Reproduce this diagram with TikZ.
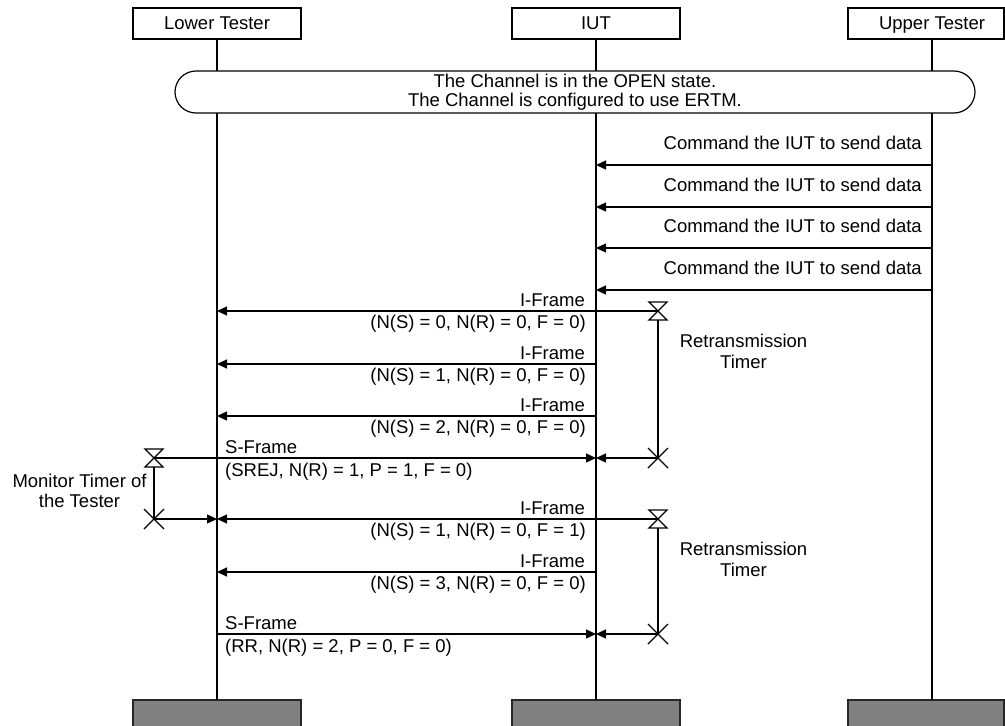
\documentclass[tikz,border=0pt]{standalone}
\usepackage{fontspec}
\setmainfont{Liberation Sans}
\usetikzlibrary{arrows.meta}
\begin{document}
\begin{tikzpicture}[x=1pt,y=-1pt,
  every node/.style={font=\fontsize{18.5}{21}\selectfont, inner sep=0pt},
  boxline/.style={line width=1.2pt},
  ftr/.style={draw=black!85, fill=black!50, line width=1.2pt},
  life/.style={line width=2pt},
  msg/.style={line width=1.3pt, -{Triangle[length=10pt,width=9pt]}},
  tline/.style={line width=1.3pt},
]
\clip (0,0) rectangle (1005,726);
\useasboundingbox (0,0) rectangle (1005,726);
\fill[white] (0,0) rectangle (1005,726);

% header boxes
\draw[boxline] (133,8) rectangle (301,39);
\node[anchor=base] (lt) at (217,29.5) {Lower Tester};
\draw[boxline] (512,8) rectangle (680,39);
\node[anchor=base] (iut) at (596,29.5) {IUT};
\draw[boxline] (848,8) rectangle (1004,39);
\node[anchor=base] (ut) at (932,29.5) {Upper Tester};
\coordinate (ltt) at (217,39);
\coordinate (iutt) at (596,39);
\coordinate (utt) at (932,39);

% footer boxes
\draw[ftr] (133,700) rectangle (301,740);
\draw[ftr] (512,700) rectangle (680,740);
\draw[ftr] (848,700) rectangle (1004,740);
\coordinate (ltb) at (217,700);
\coordinate (iutb) at (596,700);
\coordinate (utb) at (932,700);

% lifelines
\draw[life] (ltt) -- (ltb);
\draw[life] (iutt) -- (iutb);
\draw[life] (utt) -- (utb);

% channel condition
\draw[boxline, fill=white, rounded corners=21pt] (175,71) rectangle (975,113);
\node[anchor=base] (ch1) at (575,87.5) {The Channel is in the OPEN state.};
\node[anchor=base] (ch2) at (575,106.5) {The Channel is configured to use ERTM.};

% commands from upper tester
\foreach \y [count=\i] in {165,207,248,290} {
  \coordinate (cu\i) at (932,\y);
  \coordinate (ci\i) at (596,\y);
  \draw[msg] (cu\i) -- (ci\i);
  \node[anchor=base east] (cl\i) at (922,\y-16) {Command the IUT to send data};
}

% I-Frames
\foreach \y/\t [count=\i] in {311/{(N(S) = 0, N(R) = 0, F = 0)},
                              364/{(N(S) = 1, N(R) = 0, F = 0)},
                              416/{(N(S) = 2, N(R) = 0, F = 0)},
                              519/{(N(S) = 1, N(R) = 0, F = 1)},
                              572/{(N(S) = 3, N(R) = 0, F = 0)}} {
  \coordinate (fi\i) at (596,\y);
  \coordinate (fl\i) at (217,\y);
  \draw[msg] (fi\i) -- (fl\i);
  \node[anchor=base east] (fa\i) at (585,\y-5) {I-Frame};
  \node[anchor=base east] (fb\i) at (586,\y+17.5) {\t};
}

% S-Frames
\foreach \y/\t [count=\i] in {458/{(SREJ, N(R) = 1, P = 1, F = 0)},
                              634/{(RR, N(R) = 2, P = 0, F = 0)}} {
  \coordinate (sl\i) at (217,\y);
  \coordinate (si\i) at (596,\y);
  \draw[msg] (sl\i) -- (si\i);
  \node[anchor=base west] (sa\i) at (225,\y-5) {S-Frame};
  \node[anchor=base west] (sb\i) at (225,\y+18) {\t};
}

% retransmission timers
\coordinate (rs1) at (658,311);
\coordinate (re1) at (658,458);
\coordinate (rs2) at (658,519);
\coordinate (re2) at (658,634);
\draw[tline] (fi1) -- (rs1);
\draw[tline] (fi4) -- (rs2);
\foreach \k in {1,2} {
  \draw[tline] (rs\k) ++(-9,-9) -- ++(18,0) -- ++(-18,18) -- ++(18,0) -- cycle;
  \draw[tline] (rs\k) ++(0,9) -- (re\k);
  \draw[tline] (re\k) ++(-10,-10) -- ++(20,20);
  \draw[tline] (re\k) ++(10,-10) -- ++(-20,20);
}
\draw[msg] (re1) -- (si1);
\draw[msg] (re2) -- (si2);
\node[anchor=base] (rt1a) at (743.5,347) {Retransmission};
\node[anchor=base] (rt1b) at (743.5,368) {Timer};
\node[anchor=base] (rt2a) at (743.5,555) {Retransmission};
\node[anchor=base] (rt2b) at (743.5,576) {Timer};

% monitor timer
\coordinate (ms) at (154,458);
\coordinate (me) at (154,519);
\draw[tline] (ms) -- (sl1);
\draw[tline] (ms) ++(-9,-9) -- ++(18,0) -- ++(-18,18) -- ++(18,0) -- cycle;
\draw[tline] (ms) ++(0,9) -- (me);
\draw[tline] (me) ++(-10,-10) -- ++(20,20);
\draw[tline] (me) ++(10,-10) -- ++(-20,20);
\draw[msg] (me) -- (fl4);
\node[anchor=base] (mt1) at (79.5,487) {Monitor Timer of};
\node[anchor=base] (mt2) at (79.5,507) {the Tester};
\end{tikzpicture}
\end{document}
